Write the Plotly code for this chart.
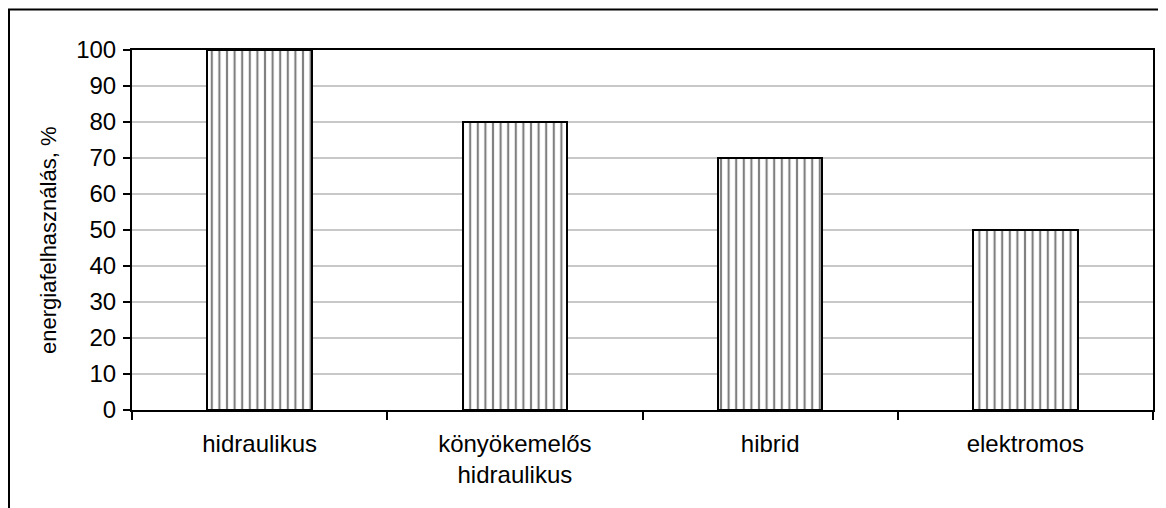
import plotly.graph_objects as go

categories = ["hidraulikus", "könyökemelős<br>hidraulikus", "hibrid", "elektromos"]
values = [100, 80, 70, 50]
y_ticks = [0, 10, 20, 30, 40, 50, 60, 70, 80, 90, 100]
y_title = "energiafelhasználás, %"

# page body has an 8px offset
OFF = 8
W, H = 1158, 500
L, R, T, B = 132 - OFF, 13, 50 - OFF, 98
pw, ph = W - L - R, H - T - B

def px(x):
    return (x - OFF - L) / pw

def py(y):
    return (H - B - (y - OFF)) / ph

fig = go.Figure()
fig.add_trace(go.Bar(
    x=categories, y=values, width=0.41,
    marker=dict(color="white", line=dict(color="black", width=2),
                pattern=dict(shape="|", fgcolor="black", bgcolor="white",
                             size=7.6, solidity=0.28)),
))

fig.add_shape(type="rect", xref="paper", yref="paper",
              x0=px(9), x1=px(1185), y0=py(530), y1=py(9.5),
              line=dict(color="black", width=2), fillcolor="rgba(0,0,0,0)", layer="below")

fig.add_annotation(text=y_title, xref="paper", yref="paper",
                   x=px(48), y=py(241), textangle=-90, showarrow=False,
                   xanchor="center", yanchor="middle",
                   font=dict(size=22, color="black"))

fig.update_layout(
    width=W, height=H,
    margin=dict(l=L, r=R, t=T, b=B),
    paper_bgcolor="white", plot_bgcolor="white",
    showlegend=False, bargap=0,
    font=dict(family="Liberation Sans, Arial, sans-serif", size=24, color="black"),
)
fig.update_xaxes(
    type="category", tickson="boundaries", ticks="outside", ticklen=8,
    tickwidth=2, tickcolor="black", showline=True, linecolor="black", linewidth=2,
    mirror=True, showgrid=False, tickfont=dict(size=24), ticklabelstandoff=11,
)
fig.update_yaxes(
    range=[0, 100], tickvals=y_ticks, ticks="outside", ticklen=7, tickwidth=2,
    tickcolor="black", showline=True, linecolor="black", linewidth=2, mirror=True,
    showgrid=True, gridcolor="#c8c8c8", gridwidth=1.5, zeroline=False,
    tickfont=dict(size=24), ticklabelstandoff=2,
)

fig.write_html("out.html")
